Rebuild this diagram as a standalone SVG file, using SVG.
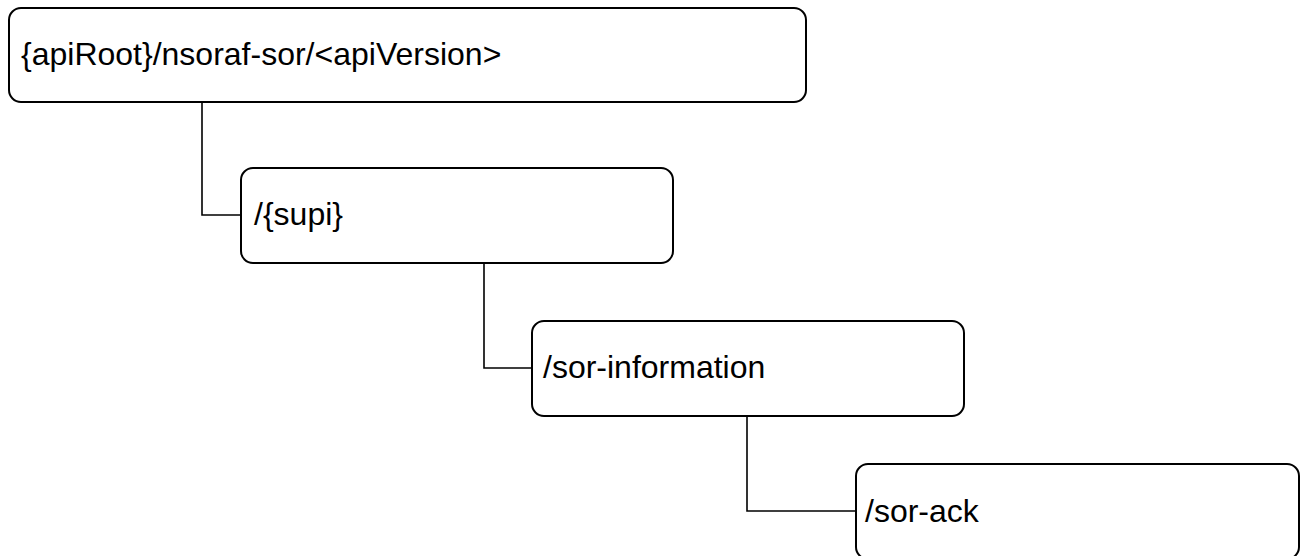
<svg xmlns="http://www.w3.org/2000/svg" width="1305" height="556" viewBox="0 0 1305 556">
<style>
.box{fill:#fff;stroke:#000;stroke-width:2}
.lbl{font-family:"Liberation Sans",Arial,sans-serif;font-size:32px;fill:#000}
.conn{fill:none;stroke:#000;stroke-width:1.6}
</style>
<rect width="1305" height="556" fill="#fff"/>
<g id="connectors">
<path class="conn" d="M202,102 V215 H241"/>
<path class="conn" d="M484,263 V368 H532"/>
<path class="conn" d="M747,416 V511 H856"/>
</g>
<g id="node-root">
<rect class="box" x="9" y="8" width="797" height="94" rx="12" ry="12"/>
<text class="lbl" x="21" y="65">{apiRoot}/nsoraf-sor/&lt;apiVersion&gt;</text>
</g>
<g id="node-supi">
<rect class="box" x="241" y="168" width="432" height="95" rx="12" ry="12"/>
<text class="lbl" x="254" y="225">/{supi}</text>
</g>
<g id="node-sor-information">
<rect class="box" x="532" y="321" width="432" height="95" rx="12" ry="12"/>
<text class="lbl" x="543" y="378">/sor-information</text>
</g>
<g id="node-sor-ack">
<rect class="box" x="856" y="464" width="443" height="95" rx="12" ry="12"/>
<text class="lbl" x="865" y="522">/sor-ack</text>
</g>
</svg>
